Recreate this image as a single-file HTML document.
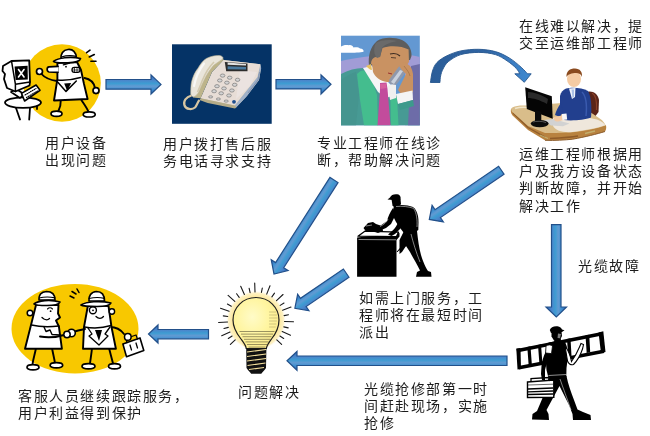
<!DOCTYPE html>
<html lang="zh-CN"><head><meta charset="utf-8">
<style>
html,body{margin:0;padding:0;background:#fff;}
body{width:650px;height:436px;position:relative;overflow:hidden;font-family:"Liberation Sans",sans-serif;}
.t{position:absolute;-webkit-font-smoothing:antialiased;will-change:transform;font-size:14px;line-height:17.2px;letter-spacing:1.6px;color:#1c1c1c;white-space:nowrap;}
svg{position:absolute;left:0;top:0;}
</style></head><body>
<svg width="650" height="436" viewBox="0 0 650 436">
<defs>
<linearGradient id="gh" x1="0" y1="0" x2="0" y2="1">
<stop offset="0" stop-color="#3466b8"/><stop offset="0.3" stop-color="#4a88cc"/><stop offset="0.45" stop-color="#3d9cd2"/><stop offset="0.6" stop-color="#629ad2"/><stop offset="0.75" stop-color="#3f90d0"/><stop offset="1" stop-color="#3466b8"/>
</linearGradient>
<linearGradient id="gv" x1="0" y1="0" x2="1" y2="0">
<stop offset="0" stop-color="#3466b8"/><stop offset="0.3" stop-color="#4a88cc"/><stop offset="0.45" stop-color="#3d9cd2"/><stop offset="0.6" stop-color="#629ad2"/><stop offset="0.75" stop-color="#3f90d0"/><stop offset="1" stop-color="#3466b8"/>
</linearGradient>
<linearGradient id="gc" x1="0" y1="0" x2="1" y2="0">
<stop offset="0" stop-color="#2b5d98"/><stop offset="0.55" stop-color="#2f64a2"/><stop offset="0.8" stop-color="#3a7cc2"/><stop offset="1" stop-color="#3f8ad0"/>
</linearGradient>
</defs>

<!-- ===== Arrows ===== -->
<!-- A1 -->
<path d="M106,79.5 H151 V74.8 L161,84.4 L151,94 V89.2 H106 Z" fill="url(#gh)" stroke="#22508a" stroke-width="1.2"/>
<!-- A2 -->
<path d="M276,79.5 H321 V74.8 L331,84.2 L321,94 V88.9 H276 Z" fill="url(#gh)" stroke="#22508a" stroke-width="1.2"/>
<!-- A3 curved -->
<path d="M430.4,82.5 C430.8,80.6 431.4,74.3 432.5,71.0 C433.6,67.7 434.6,65.0 437.0,62.5 C439.4,60.0 442.9,57.7 446.9,55.8 C450.9,53.9 455.5,52.0 460.8,50.9 C466.1,49.8 473.0,49.2 478.8,49.3 C484.6,49.4 490.3,50.2 495.4,51.6 C500.5,53.0 504.9,55.3 509.2,57.9 C513.5,60.5 518.2,64.6 521.2,67.3 C524.2,70.0 526.5,72.7 527.5,73.8 L531.2,73.8 L524.3,82.3 L514.8,73.8 L519.8,73.8 C519.2,72.9 518.3,70.5 516.2,68.3 C514.1,66.1 510.5,63.1 507.0,60.8 C503.5,58.5 500.1,56.0 495.4,54.6 C490.7,53.2 484.6,52.4 478.8,52.4 C473.0,52.4 465.9,53.1 460.8,54.6 C455.8,56.1 451.5,59.1 448.5,61.5 C445.5,63.9 444.3,66.6 443.0,69.0 C441.7,71.4 441.1,73.8 440.6,76.0 C440.1,78.2 440.1,81.4 440.0,82.5 Z" fill="url(#gc)" stroke="#27578f" stroke-width="0.9" stroke-linejoin="round"/>
<!-- A4 vertical -->
<path d="M551.5,224.6 H561 V307 H566.5 L556.3,317 L546,307 H551.5 Z" fill="url(#gv)" stroke="#22508a" stroke-width="1.2"/>
<!-- A8 long left -->
<path d="M507,356 H297 V351.5 L287,360.8 L297,370.3 V365.5 H507 Z" fill="url(#gh)" stroke="#22508a" stroke-width="1.2"/>
<!-- A9 short left -->
<path d="M208.5,329.5 H158 V325 L148.5,334 L158,343 V338.8 H208.5 Z" fill="url(#gh)" stroke="#22508a" stroke-width="1.2"/>
<!-- diagonal arrows: local coords tail at (0,0) pointing +x -->
<g transform="translate(334,180) rotate(122.55)">
<path d="M0,-4.8 H101 V-10 L111.5,0 L101,10 V4.8 H0 Z" fill="url(#gh)" stroke="#22508a" stroke-width="1.2"/>
</g>
<g transform="translate(501.3,170.2) rotate(145.65)">
<path d="M0,-4.8 H77 V-10 L87.2,0 L77,10 V4.8 H0 Z" fill="url(#gh)" stroke="#22508a" stroke-width="1.2"/>
</g>
<g transform="translate(346.2,273.1) rotate(145.6)">
<path d="M0,-5 H52 V-10 L62.2,0 L52,10 V5 H0 Z" fill="url(#gh)" stroke="#22508a" stroke-width="1.2"/>
</g>

<!-- ===== Image 1: user at computer ===== -->
<g stroke-linejoin="round" stroke-linecap="round">
<circle cx="62" cy="83" r="38.8" fill="#f8c800"/>
<!-- table -->
<path d="M16,108 L20,119.5 M30,108 L29.2,119.5 M37,102 L37,109" stroke="#000" stroke-width="1.8" fill="none"/>
<ellipse cx="23" cy="102.6" rx="18" ry="5.3" fill="#fff" stroke="#000" stroke-width="1.8"/>
<!-- monitor -->
<path d="M11,92 L20,98 L24,94 L16,89 Z" fill="#fff" stroke="#000" stroke-width="1.6"/>
<path d="M11.5,61 L3,66 L2.5,71 L5,74 L4,79 L7,88 L15.4,91.5 L29.5,85.5 L30,81.9 L29.2,60.4 Z" fill="#fff" stroke="#000" stroke-width="1.8"/>
<path d="M11.5,61 L15.4,84.2 L30,81.9 M15.4,84.2 L15.4,91.5" fill="none" stroke="#000" stroke-width="1.5"/>
<path d="M14.6,66.5 L27.6,65.8 L27.8,79.6 L15.6,80 Z" fill="#000"/>
<path d="M18.5,69.5 L24,77 M24,69.5 L18.5,77" stroke="#fff" stroke-width="1.6"/>
<!-- keyboard -->
<path d="M21.5,93.4 L36.1,85 L40,90.3 L24.6,101 Z" fill="#fff" stroke="#000" stroke-width="1.6"/>
<path d="M25,95 L36,88.5 M26.5,97.5 L37.5,91" stroke="#000" stroke-width="1.1" stroke-dasharray="0.9,1.2" fill="none"/>
<!-- man: legs -->
<path d="M60.8,100 C61,105 59.5,109 58.2,111.5 M81.4,100 C84,104 87,108 88.3,111.5" stroke="#000" stroke-width="1.9" fill="none"/>
<ellipse cx="56.5" cy="113.8" rx="5.5" ry="2.6" fill="#fff" stroke="#000" stroke-width="1.7"/>
<ellipse cx="89.2" cy="114.4" rx="6" ry="2.6" fill="#fff" stroke="#000" stroke-width="1.7"/>
<!-- arms -->
<path d="M57,81 C50,80 44,77 41,73.5" stroke="#000" stroke-width="1.9" fill="none"/>
<circle cx="39.5" cy="71.5" r="3" fill="#fff" stroke="#000" stroke-width="1.7"/>
<path d="M84.5,78 C90,79 94,83 95,88" stroke="#000" stroke-width="1.9" fill="none"/>
<circle cx="96" cy="90.6" r="3" fill="#fff" stroke="#000" stroke-width="1.7"/>
<!-- body -->
<path d="M57.4,63 L57.4,79 L54,100.5 L87.6,99 L84,84 L81,70 L77,62 Z" fill="#fff" stroke="#000" stroke-width="1.9"/>
<path d="M57.4,80 C63,80.5 72,80 80.5,77.5" fill="none" stroke="#000" stroke-width="1.5"/>
<path d="M57.6,82 L66,91.4 L76.3,81" fill="none" stroke="#000" stroke-width="1.5"/>
<path d="M64.2,83.5 L71.1,83 L67.2,91 Z" fill="#000"/>
<!-- nose -->
<path d="M58,66.3 L49,66.8 C46.5,67.2 46.5,71.5 49,72 L58,72.3" fill="#fff" stroke="#000" stroke-width="1.7"/>
<!-- face details -->
<path d="M63.4,64.8 L69.4,63" stroke="#000" stroke-width="1.4"/>
<circle cx="66" cy="66.7" r="0.9" fill="#000"/>
<rect x="72" y="67.4" width="8" height="5" rx="2.3" fill="#fff" stroke="#000" stroke-width="1.3"/>
<path d="M74.5,67.5 V72.3 M77,67.5 V72.3 M72.3,70 H79.7" stroke="#000" stroke-width="0.7"/>
<!-- hat -->
<path d="M61,59 C60.5,54 63,50 68,49.5 C73,49 76,52 76.5,58 Z" fill="#fff" stroke="#000" stroke-width="1.7"/>
<path d="M53.5,61.5 C58,58 70,56 80.5,58.5 C80,61 76,62.5 68,62.8 C60,63 55,63 53.5,61.5 Z" fill="#fff" stroke="#000" stroke-width="1.7"/>
<path d="M61.3,57 C66,55.6 72,55.5 76.3,56.3" stroke="#000" stroke-width="1.3" fill="none"/>
<!-- rays -->
<path d="M86.6,52.7 L90,50.2 M89.2,57 L94.3,54.5 M90.9,61.3 L96,61.3" stroke="#000" stroke-width="1.6"/>
</g>

<!-- ===== Image 2: phone ===== -->
<g>
<rect x="172" y="44.3" width="99.7" height="79.5" fill="#053366"/>
<!-- base body (side + front) -->
<path d="M223.4,60 L260.3,64.2 L261,68 L259,80 L246,97 L236,107.5 L207.7,102 L200.6,98.3 Z" fill="#c9c3a4"/>
<!-- right side face -->
<path d="M260.3,64.2 L261.2,68 L259,80 L247,96 L236.5,107 L234.7,105.4 L257.4,77 Z" fill="#9fb0c8"/>
<path d="M259.5,72 L258,80 L248,93" stroke="#7a8aa8" stroke-width="0.8" fill="none"/>
<!-- top face -->
<path d="M223.4,60 L260.3,64.2 L257.4,77 L234.7,105.4 L200.6,98.3 L212,72 Z" fill="#e7ddd6"/>
<path d="M240,70 L257,72 L250,86 L236,99 Z" fill="#ece6e4" opacity="0.7"/>
<!-- khaki strip between handset & keypad -->
<path d="M220,58.5 L224,59.5 L212,72 L200.6,98.3 L193,97.5 L198,90 L203.5,78 L212,65.5 Z" fill="#bdb48a"/>
<!-- display -->
<path d="M224.8,62 L247.5,63.5 L247.5,71.3 L226.2,71.3 Z" fill="#2c2c2c"/>
<path d="M227.6,62.6 L246,64 L246,65.6 L227.6,64.8 Z" fill="#e2e2e2"/>
<path d="M227.6,66.3 L246,67 L246,69.6 L227.6,69.3 Z" fill="#4a7aa0"/>
<!-- keypad -->
<g fill="#d4d4d4" stroke="#6a6a6a" stroke-width="0.6"><ellipse cx="222.6" cy="75.6" rx="2.3" ry="1.6"/><ellipse cx="229.7" cy="77.7" rx="2.3" ry="1.6"/><ellipse cx="237.6" cy="79.8" rx="2.3" ry="1.6"/><ellipse cx="219.8" cy="80.5" rx="2.3" ry="1.6"/><ellipse cx="226.9" cy="82.7" rx="2.3" ry="1.6"/><ellipse cx="234.7" cy="84.8" rx="2.3" ry="1.6"/><ellipse cx="217.0" cy="86.2" rx="2.3" ry="1.6"/><ellipse cx="224.0" cy="88.4" rx="2.3" ry="1.6"/><ellipse cx="231.9" cy="90.5" rx="2.3" ry="1.6"/><ellipse cx="214.1" cy="91.2" rx="2.3" ry="1.6"/><ellipse cx="221.2" cy="93.3" rx="2.3" ry="1.6"/><ellipse cx="229.0" cy="95.5" rx="2.3" ry="1.6"/>
<ellipse cx="210.6" cy="96.9" rx="2.1" ry="1.1"/><ellipse cx="218.4" cy="99" rx="2.1" ry="1.1"/><ellipse cx="226.2" cy="101.1" rx="2.1" ry="1.1"/>
</g>
<circle cx="234" cy="101.8" r="1.9" fill="#1f4f8f"/>
<!-- front edge -->
<path d="M200.6,98.3 L234.7,105.4 L236.5,107.3 L235,108.4 L207.7,103 L199.5,100 Z" fill="#b4ab88"/>
<!-- handset -->
<path d="M206.3,58.5 C211,56 217,55 220.5,55.7 C223,56.5 223.5,58 222.6,59.2 C218,62 215.5,64 213.4,65.6 C209,71 206.5,75 204.9,78.4 C202,84 200.5,88 199.2,91.2 C197.5,94.5 195.5,96.5 193.5,96.9 C191.5,96.5 190.5,95 190.7,92.6 C190.8,88 191,85 191.4,82.7 C193,76 195,72 197.8,68.5 C200.5,64 203,60.5 206.3,58.5 Z" fill="#e9e5da" stroke="#bdb597" stroke-width="0.6"/>
<path d="M194,86 C195.5,78 199,70 204,63.5" stroke="#f8f8f6" stroke-width="2.2" fill="none" stroke-linecap="round"/>
<path d="M214,62 C209,67 205,74 202.5,80 C200.5,85 199,89 197.5,92" stroke="#d2c9ae" stroke-width="1.6" fill="none"/>
<!-- cord -->
<path d="M191.5,95.5 C186,97 183,101 184.5,105.5 C186,109.5 192,110 195,107.5 C197,105.5 197.5,102 199.5,100" fill="none" stroke="#d8c6a2" stroke-width="2.2"/>
</g>

<!-- ===== Image 3: man on phone ===== -->
<g>
<rect x="341" y="35.7" width="78.8" height="89.6" fill="#6398d2"/>
<path d="M341,61 C350,59 360,57 372,56 L372,80 L341,80 Z" fill="#a19cd6"/>
<path d="M405,54 C410,55 416,56 419.8,57 V125.3 H405 Z" fill="#a19cd6"/>
<path d="M341,46.5 C343,45 346,44.6 349,45.2 C351,44.8 353,45.8 353.5,47.5 C356,46.8 359,47.2 360,48.6 C362.5,48.6 364,50 363.5,51.8 C360,52.8 350,53 341,52.8 Z" fill="#fff"/>
<!-- suit -->
<path d="M341,74 C348,70 356,68 363,68 L371,74 L385,88 L398,96 L412,94 L419.8,100 V125.3 H341 Z" fill="#479a94"/>
<path d="M411,66 L419.8,64 V125.3 H408 Z" fill="#6d6ca8"/>
<path d="M357,74 C360,71 362,70 364,70.5 L372,80 L377,95 L378,125.3 L364,125.3 L360,100 Z" fill="#44bd8e"/>
<path d="M390.5,100 L397,97 L398.5,125.3 L391,125.3 Z" fill="#44bd8e"/>
<path d="M341,80 C346,76 352,73 356,72 L359,95 L356,125.3 L341,125.3 Z" fill="#45958f"/>
<!-- collar/shirt -->
<path d="M363,68 L372,66 L392,86 L392,96 L386,98 L378,92 Z" fill="#f6f6f6"/>
<path d="M388,86 L396,82 L396,98 L390,100 Z" fill="#f0f0f0"/>
<!-- tie -->
<path d="M380,83 L386.5,82.5 L387.5,89 L390.5,125.3 L377.5,125.3 L380,90 Z" fill="#c24c9c"/>
<path d="M380,84 L386,83.5 L386.5,88 L380.5,89 Z" fill="#d6609f"/>
<!-- hair back -->
<path d="M369,66 C368,56 370,47 377,41 C383,37 394,37 402,40 C408,43 412,49 411.5,56 L410,60 L380,62 Z" fill="#5d5d5d"/>
<!-- face -->
<path d="M372,64 C372,58 376,56 380,57 L382.5,48 C390,45 402,46 408.6,49.5 L409,62 L400,76 C396,80 392,82 387,82 C380,81 375,77 373,72 Z" fill="#c99262"/>
<path d="M371,64 C371,60 373,57 377,57 L379,62 L378,66 Z" fill="#c99262"/>
<path d="M376,43 C380,40 390,39 397,41 C392,42 385,44 382,48 L380,57 L377,58 C374,55 373,48 376,43 Z" fill="#6a6a6a"/>
<path d="M390,54 C394,53 398,54 400,56" stroke="#3a2a20" stroke-width="1.1" fill="none"/>
<path d="M391,57.5 L396,58" stroke="#3a2a20" stroke-width="0.8"/>
<path d="M388,73 L392,74" stroke="#9a3030" stroke-width="1"/>
<path d="M366,66 C368,68 370,70 372,70 L371,64 Z" fill="#e8c060"/>
<!-- phone -->
<path d="M389,80 L400,65 L404,67 L406,72 L396,85 L390,84 Z" fill="#8e98ac"/>
<path d="M391,82 L400,70 L403,71 L394,84 Z" fill="#c8d0dc"/>
<!-- hand -->
<path d="M399,66 C401,62 405,62 407,64 C410,65 412,68 413,74 L413,92 L402,95 L398,90 L402,82 L406,74 L402,70 Z" fill="#c99262"/>
<path d="M404,66 C407,70 409,72 410,76" stroke="#9a6a40" stroke-width="0.6" fill="none"/>
<!-- cuff -->
<path d="M396,94 L412.5,90.5 L413,100 L398,104 Z" fill="#f4f4f4"/>
<path d="M398,104 L413,100 L414,106 L400,110 Z" fill="#3d9a8c"/>
</g>

<!-- ===== Image 4: engineer at desk ===== -->
<g>
<!-- chair -->
<path d="M586,92 C592,90 598,93 599,100 L598.5,112 L594,118 L586,118 Z" fill="#5a2418"/>
<path d="M592,93 C596,95 597,100 596.5,110" stroke="#8a4028" stroke-width="1.2" fill="none"/>
<!-- desk front face -->
<path d="M511,109 C510.5,111.5 511,113.5 512.6,115.4 L528,130 L545,140.3 C555,140.6 565,140 572.6,139.2 C585,137 597,134 605,131.5 C606.5,129 606.5,126.5 605.7,125 L511,109 Z" fill="#b8823f"/>
<path d="M513,113 L528,127.5 L545,137 M550,138.5 C560,138 570,137.5 578,136" stroke="#8a5626" stroke-width="1.3" fill="none" opacity="0.9"/>
<path d="M540,135 L548,138.5 M585,133.5 L595,131" stroke="#c8c080" stroke-width="1.3" fill="none" opacity="0.7"/>
<path d="M545,140.3 C555,140.6 565,140 572.6,139.2 C585,137 597,134 605,131.5" stroke="#8a5a2a" stroke-width="1" fill="none"/>
<!-- desk top -->
<path d="M511,108.7 C513,106.8 516,106 520,105.6 L528,105.4 L552.6,103.8 L561.8,103 C575,104 588,110 596,116 C601,119 604,121.5 605.7,125.4 C597,128.5 586,130.5 572.6,132.3 C562,133 553,133.2 545,133 L528,126 L511.8,111.5 Z" fill="#d9bd8a"/>
<path d="M553,118 C566,115.5 584,116 597,119.5 C602,121.5 604.5,123.5 605.3,125.3 C597,128.3 586,130.3 572.6,132 C563,132.8 556,131 553,126 Z" fill="#efe7dc"/>
<path d="M515,108.5 C519,107.2 524,107 528,107.5" stroke="#f0e4c8" stroke-width="1.6" fill="none"/>
<!-- keyboard -->
<path d="M543.4,120 L553,119 L569.5,123.5 L563,126.2 L551,125.5 Z" fill="#d2d2d2"/>
<!-- suit -->
<path d="M566,88.5 C572,87 582,87.5 588,91 C591,96 592,106 591,117.5 C584,120 572,121 564,120 L560,108 L560,96 C561,92 563,90 566,88.5 Z" fill="#223f8e"/>
<path d="M582,92 C586,96 587,106 586,116" stroke="#3a5aae" stroke-width="1.5" fill="none"/>
<path d="M569,88.5 L575.5,88 L575,97 L572,99 Z" fill="#eef2fa"/>
<path d="M571.5,89.5 L574,89.5 L574,97 L572.5,98 Z" fill="#a9c0e6"/>
<!-- arm + hand -->
<path d="M561,103 C558,107 556,111 555,115 L560,117 L563,112 Z" fill="#223f8e"/>
<path d="M554,117 C553,119.5 555,122 558.5,121.5 L563,120 L562,115.5 Z" fill="#f3c9a2"/>
<path d="M561.8,114 L566.5,113.5 L567.2,119.5 L562.5,120 Z" fill="#f7f7f7"/>
<!-- head -->
<ellipse cx="574" cy="79" rx="7" ry="8" fill="#f5cba3"/>
<path d="M566.5,77 C566,71 570,68.5 575,68.5 C580,68.5 582.5,72 582,77 C581,74 579,73 576,73 C572,73 568,74 566.5,77 Z" fill="#8a4a1e"/>
<!-- monitor -->
<path d="M525.2,87.3 L551.8,96.2 L552.7,118.8 L526.8,109 Z" fill="#050505"/>
<path d="M528,92 C534,92 542,95 548,99 L547,104 C540,100 533,98 528,98 Z" fill="#3a3a3a" opacity="0.7"/>
<path d="M535,110 L541.3,111.5 L541.3,122 L535,121 Z" fill="#0a0a0a"/>
<ellipse cx="539.7" cy="123.6" rx="8.9" ry="3.6" fill="#0c0c0c"/>
<path d="M533,122 C536,121 542,121 546,122.5" stroke="#666" stroke-width="0.8" fill="none"/>
</g>

<!-- ===== Worker with box ===== -->
<g fill="#000">
<!-- box -->
<path d="M357.1,237.5 L357.1,276.8 L396.5,276.8 L396.5,240 L399.5,236.5 L399.5,233 Z"/>
<path d="M358,236.2 L364.8,231.2 L398.5,232.2 L396.5,236.6 Z" fill="#fff" stroke="#000" stroke-width="1.3" stroke-linejoin="round"/>
<path d="M358.5,239.5 L396,239.8" stroke="#e8e8e8" stroke-width="0.6"/>
<!-- tool -->
<path d="M363.5,228 L368,223 L373,222 L376,224 L382,226 L383,231 L378,233 L372,231 L366,231.5 Z"/>
<path d="M366,226 L372,225" stroke="#bbb" stroke-width="0.7"/>
<!-- cap & head -->
<path d="M387.5,199.5 L390,197.5 C391,194.5 395,193.5 398.5,194.5 C400.5,195.5 401,197.5 400.5,199.5 L393,200 Z"/>
<path d="M391.5,199 L400.5,199 L401,204 L398.5,207.5 L395,208 L392.5,205.5 Z"/>
<!-- torso -->
<path d="M394,206 C400,204 408,205 413,207 C417,210 418.5,216 418.5,222 L418.3,230 L414,233 L404,233 L400,228 L396,222 L392,214 Z"/>
<!-- arm to tool -->
<path d="M393,208 C390,212 388,217 387,221 L380,226 L376,228.5 L379,231 L386,228 L391,224 L395,216 Z"/>
<!-- arm to box -->
<path d="M400,214 C399,222 396,228 392,231 L388,234.5 L391.5,236 L395,234 L400,229 L403,222 Z"/>
<!-- legs -->
<path d="M404,231 L417,231 C418,240 419,248 421,255 C423,262 426,268 428,271 L431,272 L431.5,276.7 L416,276.7 L417,272 L420,270.5 C417,264 413,258 410,252 L406,246 L402,252 L399.5,254 L399.5,240 Z"/>
<path d="M397,252 C402,246 404,244 406,246" stroke="#000" stroke-width="1"/>
</g>
<g stroke="#fff" stroke-width="0.6" fill="none" opacity="0.85">
<path d="M396,206.5 C402,206 409,206.5 414,208.5"/>
<path d="M414,209 C416.5,213 417.5,220 417,227"/>
<path d="M411,234 C413,242 416,252 420,262"/>
<path d="M388,219 C387,222 384,224.5 380,226.5"/>
</g>

<!-- ===== Bulb ===== -->
<g>
<defs>
<radialGradient id="halo" cx="0.5" cy="0.5" r="0.5">
<stop offset="0.8" stop-color="#fdeaa4"/><stop offset="0.92" stop-color="#fef2c6"/><stop offset="1" stop-color="#fff" stop-opacity="0"/>
</radialGradient>
<radialGradient id="glb" cx="0.42" cy="0.38" r="0.62">
<stop offset="0" stop-color="#fffbc8"/><stop offset="0.6" stop-color="#fff5a0"/><stop offset="1" stop-color="#faea8e"/>
</radialGradient>
</defs>
<circle cx="256" cy="320.5" r="30" fill="url(#halo)"/>
<path d="M242,343 C244,352 268,352 270,343 L269.5,336 L242.5,336 Z" fill="#fbe6a4"/>
<path d="M255.0,292.0 L254.7,283.0 M244.4,294.5 L240.7,286.2 M234.8,301.4 L228.1,295.4 M229.1,311.2 L220.5,308.3 M227.5,322.0 L218.6,322.5 M230.0,332.1 L221.7,335.8 M235.2,339.9 L230.4,344.4 M266.7,294.1 L270.0,285.7 M276.5,300.7 L283.0,294.5 M282.6,310.3 L291.0,307.1 M284.5,321.5 L293.5,321.8 M282.2,331.6 L290.5,335.2 M276.8,339.9 L281.6,344.4 M250.1,292.6 L249.1,288.2 M239.2,297.4 L236.6,293.8 M231.3,306.2 L227.4,304.0 M227.8,316.5 L223.3,315.9 M228.3,327.4 L224.0,328.5 M232.1,336.0 L228.3,338.5 M261.4,292.5 L262.3,288.1 M271.9,296.9 L274.5,293.1 M280.2,305.4 L284.0,303.0 M284.1,315.6 L288.5,314.8 M283.8,326.9 L288.2,327.9 M279.9,336.0 L283.7,338.5" stroke="#1a1a1a" stroke-width="1.1" stroke-linecap="round"/>
<path d="M256,297.5 C243,297.5 233,307.5 233,320 C233,328.5 237,334 241,339 C244,343 246,345.5 246.2,348.5 L266.4,348.5 C266.6,345.5 268.5,343 271.5,339 C275.5,334 279,328.5 279,320 C279,307.5 269,297.5 256,297.5 Z" fill="url(#glb)" stroke="#1e1e1e" stroke-width="1.2"/>
<path d="M239.5,331.5 L274.5,331.5 M241.0,334.1 L273.0,334.1 M242.5,336.7 L271.5,336.7 M244.0,339.3 L270.0,339.3 M245.5,341.9 L268.5,341.9 M247.0,344.5 L267.0,344.5 M248.5,347.1 L265.5,347.1" stroke="#2e2a1a" stroke-width="0.8" opacity="0.6"/>
<path d="M269.0,312.0 L276.3,312.0 M269.0,315.0 L276.9,315.0 M269.0,318.0 L277.5,318.0 M269.0,321.0 L276.9,321.0 M269.0,324.0 L276.3,324.0 M269.0,327.0 L275.7,327.0" stroke="#5a5030" stroke-width="0.6" opacity="0.45"/>
<path d="M246.2,348.5 L266.4,348.5 L266,368 C264,371 262,372.5 261.3,373.8 L251.2,373.8 C250.5,372.5 248.5,371 246.5,368 Z" fill="#111"/>
<path d="M247,352 L266,349.5 M247,356.5 L266,354 M247,361 L266,358.5 M247.5,365.5 L265.5,363 M249,369.5 L264,367.5" stroke="#f3df9c" stroke-width="1.1"/>
</g>

<!-- ===== Handshake ===== -->
<g stroke-linejoin="round" stroke-linecap="round">
<ellipse cx="75" cy="328.7" rx="63.5" ry="44.8" fill="#f8c800"/>
<!-- rays -->
<path d="M70,296 L74,298 M72,291.5 L76,294 M77,289 L79,292.5" stroke="#000" stroke-width="1.5" fill="none"/>
<!-- left figure legs/feet -->
<path d="M36,348 C35,354 33,359 32.5,364.5 M52,348 C53,354 54.5,359 55,363.5" stroke="#000" stroke-width="1.9" fill="none"/>
<ellipse cx="33" cy="367.2" rx="6" ry="2.6" fill="#fff" stroke="#000" stroke-width="1.7"/>
<ellipse cx="56.4" cy="365.2" rx="6.3" ry="2.6" fill="#fff" stroke="#000" stroke-width="1.7"/>
<!-- left figure body -->
<path d="M36,305 L31,325 L25,348.8 L61.9,348.8 L58.9,326.5 L56,320.5 L58,319 L60,317.5 L58,313.5 L58.5,305 Z" fill="#fff" stroke="#000" stroke-width="1.9"/>
<path d="M31.5,325 C40,327 50,327 58.9,326" fill="none" stroke="#000" stroke-width="1.4"/>
<path d="M44,327 L46,331.5 L50,330 L52,334.5 L60,335" fill="none" stroke="#000" stroke-width="1.4"/>
<circle cx="30" cy="313" r="2.8" fill="#fff" stroke="#000" stroke-width="1.5"/>
<path d="M42,317.5 C44.5,320 47.5,320.5 49.5,318.5" fill="none" stroke="#000" stroke-width="1.3"/>
<path d="M47.5,309 C49,307.5 51,307.5 52.5,309" fill="none" stroke="#000" stroke-width="1.1"/>
<circle cx="50.6" cy="311.2" r="0.9" fill="#000"/>
<!-- left hat -->
<path d="M39,300 C38.5,295 41,291.8 46.5,291.5 C52,291.5 55,294.5 55,300 Z" fill="#fff" stroke="#000" stroke-width="1.7"/>
<path d="M34,304 C38,300.5 50,299 60,302 C59,304.5 55,305.5 47,305.5 C40,305.5 35.5,305.5 34,304 Z" fill="#fff" stroke="#000" stroke-width="1.7"/>
<path d="M39,298 C44,296.8 50,296.8 55,297.8" stroke="#000" stroke-width="1.2" fill="none"/>
<!-- left arm -->
<path d="M40,336.5 C48,338 58,337 66,334.5" stroke="#000" stroke-width="1.9" fill="none"/>
<!-- right figure legs/feet -->
<path d="M92,348 C91.5,354 90.5,359 90,363.5 M109,348 C110.5,354 112,359 113,363.5" stroke="#000" stroke-width="1.9" fill="none"/>
<ellipse cx="88.5" cy="366.3" rx="6.5" ry="2.6" fill="#fff" stroke="#000" stroke-width="1.7"/>
<ellipse cx="114.5" cy="366.3" rx="6" ry="2.6" fill="#fff" stroke="#000" stroke-width="1.7"/>
<!-- right arm to briefcase -->
<path d="M110,327 C116,327 121,330 124,334" stroke="#000" stroke-width="1.9" fill="none"/>
<!-- briefcase -->
<path d="M122.9,344 L140,337.9 L143.8,350.5 L126.5,356.8 Z" fill="#fff" stroke="#000" stroke-width="1.6"/>
<path d="M127,342.5 L126,338.5 L136,335 L137.5,339" fill="none" stroke="#000" stroke-width="1.3"/>
<path d="M130,345 L131.5,350 M136,343 L137.5,348" stroke="#000" stroke-width="1.3"/>
<circle cx="127.8" cy="336.9" r="3.3" fill="#fff" stroke="#000" stroke-width="1.5"/>
<!-- right figure body -->
<path d="M88,305 L84,327 L83,348.8 L115.9,348.8 L111.5,327 L108.5,306 Z" fill="#fff" stroke="#000" stroke-width="1.9"/>
<path d="M84.5,327 C93,328.5 103,328 111,325.5" fill="none" stroke="#000" stroke-width="1.4"/>
<path d="M88,328 L92,334 L89,336 L99,345 L108,336 L105,334 L110,327" fill="none" stroke="#000" stroke-width="1.3"/>
<path d="M95,330 L102,330 L99,341 Z" fill="#000"/>
<circle cx="92.9" cy="310.2" r="3.5" fill="#fff" stroke="#000" stroke-width="1.4"/>
<circle cx="93" cy="310.3" r="0.9" fill="#000"/>
<circle cx="111.9" cy="311.5" r="2.7" fill="#fff" stroke="#000" stroke-width="1.4"/>
<path d="M96,316.5 C98.5,319 101.5,319 103.5,316.5" fill="none" stroke="#000" stroke-width="1.3"/>
<!-- right hat -->
<path d="M89,301 C88.5,296 91,291.8 96.5,291.5 C102,291.5 104.5,295 104.5,301 Z" fill="#fff" stroke="#000" stroke-width="1.7"/>
<path d="M81,305 C86,301.5 100,300.5 110.9,303 C110,305.5 105,306.5 97,306.5 C89,306.5 83,306.5 81,305 Z" fill="#fff" stroke="#000" stroke-width="1.7"/>
<path d="M89,298.5 C94,297.3 100,297.3 104.5,298.3" stroke="#000" stroke-width="1.2" fill="none"/>
<!-- right figure left arm & handshake -->
<path d="M85,329 C80,330 76,331 73,332" stroke="#000" stroke-width="1.9" fill="none"/>
<circle cx="71.5" cy="333" r="3.8" fill="#fff" stroke="#000" stroke-width="1.6"/>
<circle cx="67" cy="334.5" r="3.2" fill="#fff" stroke="#000" stroke-width="1.5"/>
</g>

<!-- ===== Ladder man ===== -->
<g fill="#000">
<!-- ladder rails -->
<path d="M516.5,349 L601.5,332 L602.2,335.5 L517.2,352.5 Z"/>
<path d="M518.5,366 L603.5,349.5 L604.2,353 L519.2,369.5 Z"/>
<path d="M516.3,348.5 L520.5,348 L521,369 L517.5,369.5 Z"/>
<path d="M598.5,332.5 L603.3,331.3 L605.5,352 L601,353 Z"/>
<!-- rungs -->
<path d="M527.3,347 L530.5,346.3 L531.8,364 L528.6,364.6 Z M538,345 L541,344.3 L542.3,362 L539.3,362.6 Z M567,339 L570.5,338.3 L571.5,356 L568.2,356.7 Z M585.5,335.5 L589.2,334.8 L590.2,352.3 L586.7,353 Z"/>
<!-- cap/head -->
<path d="M549.8,330 C550.5,327 554,325.8 557.5,326.2 C560,326.6 561.5,328 562,329.5 L564.5,330.2 L562,332 L551,333 Z"/>
<path d="M551.5,331.5 L561.5,331.5 L562,336 L560,340 L554,340.5 L551.5,336.5 Z"/>
<path d="M558,333.5 L561,334 L560,338.5 L557.5,338 Z" fill="#fff" opacity="0.5"/>
<!-- neck -->
<path d="M554.6,338.5 L560.8,338.5 L561,343 L554,343 Z"/>
<!-- torso -->
<path d="M548,343 C552,341 561,341 565.5,343 C567.5,347 568,353 567.5,360 L566.5,368 L566.3,377 L548.5,378 L546.5,370 L545.6,358 C545.2,351 546,346 548,343 Z"/>
<!-- left shoulder sleeve -->
<path d="M546,346 C548,344.5 551,344.5 552.5,346 L551.5,353.6 L545.6,353 Z" fill="#fff" stroke="#000" stroke-width="0.8"/>
<!-- arm down to toolbox -->
<path d="M545.6,352 C543.5,356 542,361 541.5,366 L541,374 L542,380 L545,380 L545,370 L547.5,360 Z"/>
<!-- right arm (white) up to ladder -->
<path d="M565,346 C568,350 570.5,356 571.5,361.5 C574,358 577,353 579.5,347 L581,343.5 L583.5,344.5 L582.5,349 C580.5,355 577,361 573.5,364.5 C571,365.5 568.5,364 567.5,361 Z" fill="#fff" stroke="#000" stroke-width="1.1"/>
<!-- legs -->
<path d="M549,376 L566.5,376 C568,384 571,392 574,400 L577.5,409.5 L583,412 L590.5,415 L591,420 L573,420 L572.5,414 L568.5,404 L562.5,392 L559.5,386 L553,398 L546.5,410 L548.5,414 L549,420 L532,419.5 L532.5,414 L537,411 L540,404 L545,392 Z"/>
<!-- belt -->
<path d="M548.5,375.5 L566.5,374.5" stroke="#fff" stroke-width="0.7" opacity="0.8"/>
<!-- toolbox -->
<path d="M527.5,382 L553.8,380 L553.8,397.2 L527.5,397.5 Z" fill="#fff" stroke="#000" stroke-width="1.4"/>
<path d="M528,389 L553,388 M528,391.8 L553,391 M528,394.5 L553,394" stroke="#000" stroke-width="1.3"/>
<path d="M528,385 L553,384.2" stroke="#000" stroke-width="0.6"/>
<path d="M531,382 L531,378.5 L549,377.5 L550,381" fill="none" stroke="#000" stroke-width="1.3"/>
</g>
<g stroke="#fff" stroke-width="0.6" fill="none" opacity="0.85">
<path d="M560,379 C563,388 567,398 571,410"/>
</g>
</svg>

<div class="t" style="left:518.5px;top:18.0px">在线难以解决，提<br>交至运维部工程师</div>
<div class="t" style="left:44.5px;top:135.0px">用户设备<br>出现问题</div>
<div class="t" style="left:162.5px;top:136.0px">用户拨打售后服<br>务电话寻求支持</div>
<div class="t" style="left:316.5px;top:135.0px">专业工程师在线诊<br>断，帮助解决问题</div>
<div class="t" style="left:518.5px;top:146.0px">运维工程师根据用<br>户及我方设备状态<br>判断故障，并开始<br>解决工作</div>
<div class="t" style="left:577.5px;top:258.0px">光缆故障</div>
<div class="t" style="left:358.5px;top:290.0px">如需上门服务，工<br>程师将在最短时间<br>派出</div>
<div class="t" style="left:363.5px;top:381.0px">光缆抢修部第一时<br>间赶赴现场，实施<br>抢修</div>
<div class="t" style="left:17.5px;top:388.0px">客服人员继续跟踪服务，<br>用户利益得到保护</div>
<div class="t" style="left:237.5px;top:384.0px">问题解决</div>
</body></html>
